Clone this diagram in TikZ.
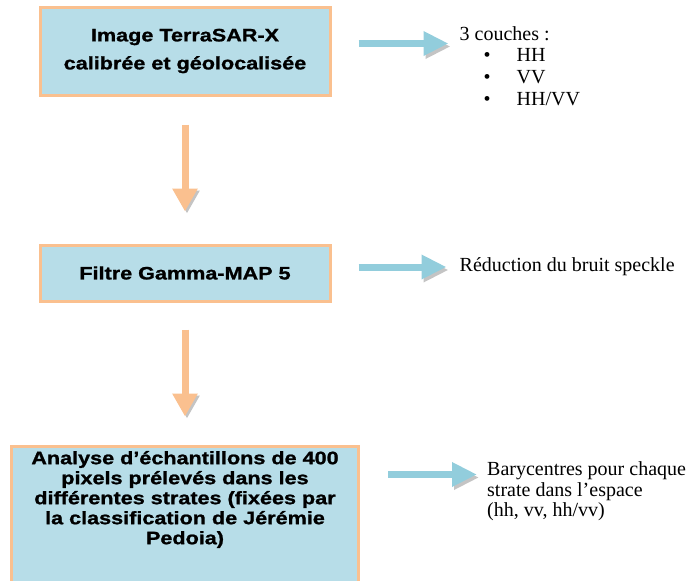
\documentclass[tikz,border=0pt]{standalone}
\usepackage{fontspec}
\setmainfont{Liberation Serif}
\newfontfamily\boxfont[FakeStretch=1.2,FakeBold=1.2]{Liberation Sans}
\usepackage{tikz}
\usetikzlibrary{arrows.meta,positioning}
\definecolor{boxblue}{HTML}{B7DDE8}
\definecolor{peach}{HTML}{FAC08F}
\definecolor{arrowblue}{HTML}{92CDDC}
\definecolor{shadowgray}{HTML}{C4C4C4}

\begin{document}
\begin{tikzpicture}[x=1pt,y=-1pt,
  box/.style={rectangle,draw=peach,line width=3pt,fill=boxblue,
    font=\boxfont\bfseries\fontsize{18}{20}\selectfont,align=center,inner sep=0pt,minimum width=290pt},
  lbl/.style={font=\fontsize{20}{20.5}\selectfont,align=left,inner sep=0pt},
  darr/.style={-{Triangle[length=23pt,width=24pt]},line width=7pt,color=peach,
    preaction={draw=shadowgray,transform canvas={shift={(2pt,-2pt)}}}},
  harr/.style={-{Triangle[length=25pt,width=23pt]},line width=7pt,color=arrowblue,
    preaction={draw=shadowgray,transform canvas={shift={(2pt,-3pt)}}}}]
  \useasboundingbox (0,0) rectangle (694,581);
  \node[box,minimum height=88pt] (b1) at (185,51) {Image TerraSAR-X\\[8pt]calibrée et géolocalisée};
  \node[box,minimum height=56pt,below=147pt of b1] (b2) {Filtre Gamma-MAP 5};
  \node[box,minimum width=347pt,inner ysep=5pt,text depth=150pt,below=142pt of b2] (b3)
    {Analyse d’échantillons de 400\\pixels prélevés dans les\\différentes strates (fixées par\\la classification de Jérémie\\Pedoia)};
  \draw[darr,shorten <=28pt,shorten >=32pt] (b1) -- (b2);
  \draw[darr,shorten <=27pt,shorten >=28pt] (b2) -- (b3);
  \node[lbl,below right=19pt and 128pt of b1.north east] (t1)
    {\renewcommand\arraystretch{1.07}%
     \begin{tabular}{@{\hspace{24pt}}l@{\hspace{26pt}}l@{}}
      \multicolumn{2}{@{}l@{}}{3 couches :}\\
      \textbullet & HH\\
      \textbullet & VV\\
      \textbullet & HH/VV
    \end{tabular}};
  \node[lbl,right=128pt of b2,yshift=6pt] (t2) {Réduction du bruit speckle};
  \node[lbl,below right=17pt and 127pt of b3.north east] (t3)
    {Barycentres pour chaque\\strate dans l'espace\\(hh, vv, hh/vv)};
  \coordinate (e1) at ([yshift=-19pt]t1.north west);
  \coordinate (e3) at ([yshift=-13pt]t3.north west);
  \draw[harr,shorten <=27pt,shorten >=11pt] (b1.east |- e1) -- (e1);
  \draw[harr,shorten <=27pt,shorten >=13pt] (b2.east |- t2.west) -- (t2);
  \draw[harr,shorten <=28pt,shorten >=10pt] (b3.east |- e3) -- (e3);
\end{tikzpicture}
\end{document}
